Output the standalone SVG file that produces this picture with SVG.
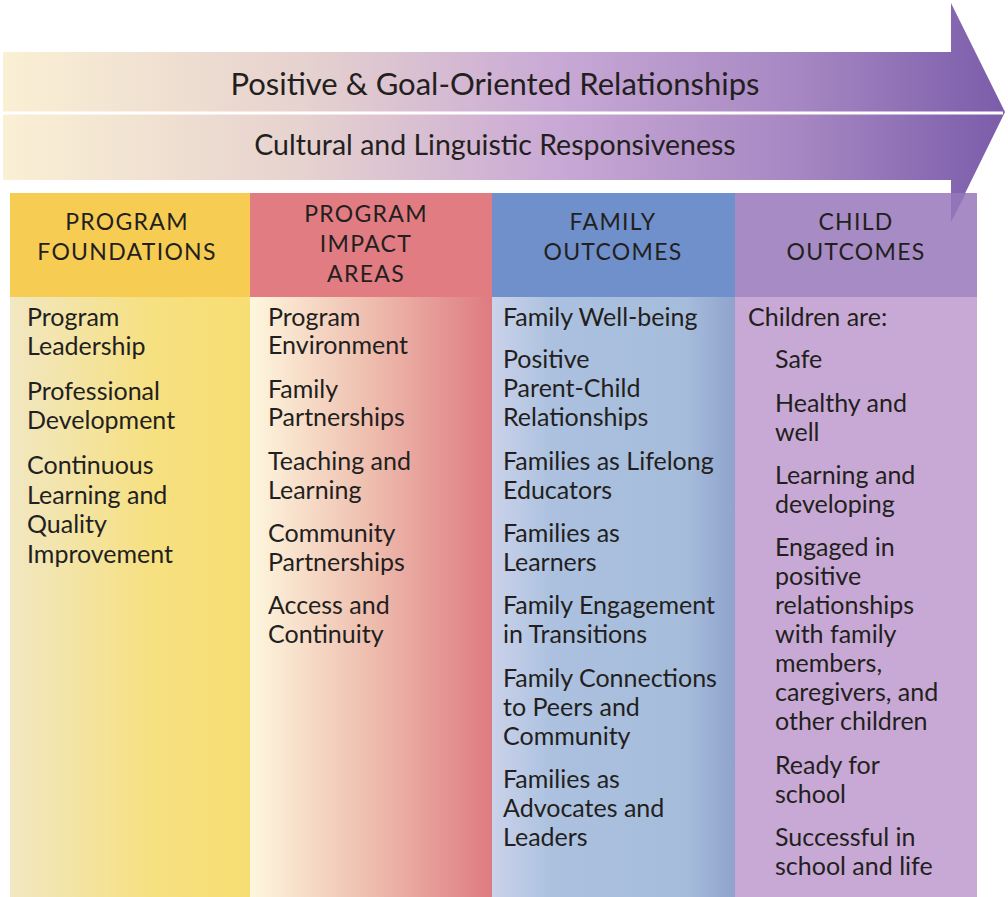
<svg xmlns="http://www.w3.org/2000/svg" width="1008" height="897" viewBox="0 0 1008 897">
<defs>
<linearGradient id="arrowG" x1="0" y1="0" x2="1" y2="0">
<stop offset="0" stop-color="#FAF0D4"/>
<stop offset="0.3" stop-color="#E6D2CF"/>
<stop offset="0.55" stop-color="#C9A9D5"/>
<stop offset="0.8" stop-color="#A586C2"/>
<stop offset="1" stop-color="#7A5CAA"/>
</linearGradient>
<linearGradient id="g1" x1="0" y1="0" x2="1" y2="0">
<stop offset="0" stop-color="#F1E7C2"/>
<stop offset="0.6" stop-color="#F6E080"/>
<stop offset="1" stop-color="#F8DE72"/>
</linearGradient>
<linearGradient id="g2" x1="0" y1="0" x2="1" y2="0">
<stop offset="0" stop-color="#FEF7DE"/>
<stop offset="0.5" stop-color="#EEBDAE"/>
<stop offset="1" stop-color="#DE7B82"/>
</linearGradient>
<linearGradient id="g3" x1="0" y1="0" x2="1" y2="0">
<stop offset="0" stop-color="#CBD2EA"/>
<stop offset="0.25" stop-color="#ABC1DF"/>
<stop offset="0.8" stop-color="#A6BCDB"/>
<stop offset="1" stop-color="#8FA3CC"/>
</linearGradient>
<style>
.t{font-family:Lato,"Open Sans","Liberation Sans",sans-serif;fill:#231f20}
.title{font-size:31px;text-anchor:middle}
.sub{font-size:28.5px;text-anchor:middle}
.hd{font-size:23px;text-anchor:middle;letter-spacing:1.3px}
.b{font-size:25px}
</style>
</defs>
<rect width="1008" height="897" fill="#ffffff"/>
<g id="arrow">
<polygon points="3,52 951,52 951,3 1005,112 951,222 951,180 3,180" fill="url(#arrowG)"/>
<line x1="3" y1="113" x2="1003" y2="113" stroke="#ffffff" stroke-width="3"/>
<text class="t title" x="495" y="95">Positive &amp; Goal-Oriented Relationships</text>
<text class="t sub" x="495" y="155">Cultural and Linguistic Responsiveness</text>
</g>
<g id="col-foundations">
<rect x="10" y="193" width="240" height="104" fill="#F7CC52"/>
<rect x="10" y="297" width="240" height="600" fill="url(#g1)"/>
<text class="t hd" x="127" y="230">PROGRAM</text>
<text class="t hd" x="127" y="260">FOUNDATIONS</text>
<text class="t b"><tspan x="27" y="326">Program</tspan><tspan x="27" y="355">Leadership</tspan><tspan x="27" y="400">Professional</tspan><tspan x="27" y="429">Development</tspan><tspan x="27" y="474">Continuous</tspan><tspan x="27" y="504">Learning and</tspan><tspan x="27" y="533">Quality</tspan><tspan x="27" y="563">Improvement</tspan></text>
</g>
<g id="col-impact">
<rect x="250" y="193" width="242" height="104" fill="#E07C82"/>
<rect x="250" y="297" width="242" height="600" fill="url(#g2)"/>
<text class="t hd" x="366" y="222">PROGRAM</text>
<text class="t hd" x="366" y="252">IMPACT</text>
<text class="t hd" x="366" y="282">AREAS</text>
<text class="t b"><tspan x="268" y="326">Program</tspan><tspan x="268" y="354">Environment</tspan><tspan x="268" y="398">Family</tspan><tspan x="268" y="426">Partnerships</tspan><tspan x="268" y="470">Teaching and</tspan><tspan x="268" y="499">Learning</tspan><tspan x="268" y="542">Community</tspan><tspan x="268" y="571">Partnerships</tspan><tspan x="268" y="614">Access and</tspan><tspan x="268" y="643">Continuity</tspan></text>
</g>
<g id="col-family">
<rect x="492" y="193" width="243" height="104" fill="#6F90CB"/>
<rect x="492" y="297" width="243" height="600" fill="url(#g3)"/>
<text class="t hd" x="613" y="230">FAMILY</text>
<text class="t hd" x="613" y="260">OUTCOMES</text>
<text class="t b"><tspan x="503" y="326">Family Well-being</tspan><tspan x="503" y="368">Positive</tspan><tspan x="503" y="397">Parent-Child</tspan><tspan x="503" y="426">Relationships</tspan><tspan x="503" y="470">Families as Lifelong</tspan><tspan x="503" y="499">Educators</tspan><tspan x="503" y="542">Families as</tspan><tspan x="503" y="571">Learners</tspan><tspan x="503" y="614">Family Engagement</tspan><tspan x="503" y="643">in Transitions</tspan><tspan x="503" y="687">Family Connections</tspan><tspan x="503" y="716">to Peers and</tspan><tspan x="503" y="745">Community</tspan><tspan x="503" y="788">Families as</tspan><tspan x="503" y="817">Advocates and</tspan><tspan x="503" y="846">Leaders</tspan></text>
</g>
<g id="col-child">
<rect x="735" y="193" width="242" height="104" fill="#A68BC4"/>
<rect x="735" y="297" width="242" height="600" fill="#C8A9D5"/>
<text class="t hd" x="856" y="230">CHILD</text>
<text class="t hd" x="856" y="260">OUTCOMES</text>
<text class="t b"><tspan x="748" y="326">Children are:</tspan><tspan x="775" y="368">Safe</tspan><tspan x="775" y="412">Healthy and</tspan><tspan x="775" y="441">well</tspan><tspan x="775" y="484">Learning and</tspan><tspan x="775" y="513">developing</tspan><tspan x="775" y="556">Engaged in</tspan><tspan x="775" y="585">positive</tspan><tspan x="775" y="614">relationships</tspan><tspan x="775" y="643">with family</tspan><tspan x="775" y="672">members,</tspan><tspan x="775" y="701">caregivers, and</tspan><tspan x="775" y="730">other children</tspan><tspan x="775" y="774">Ready for</tspan><tspan x="775" y="803">school</tspan><tspan x="775" y="846">Successful in</tspan><tspan x="775" y="875">school and life</tspan></text>
</g>
<g id="arrow-overlap">
<polygon points="951,193 966,193 951,222" fill="#9274B9"/>
</g>
<g id="connectors"></g>
</svg>
